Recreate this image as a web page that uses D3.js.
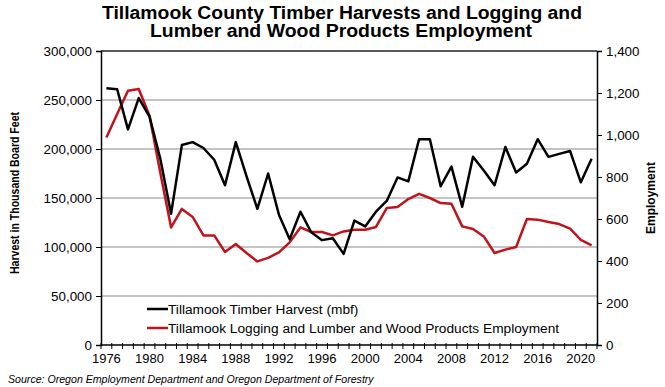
<!DOCTYPE html>
<html>
<head>
<meta charset="utf-8">
<script src="https://cdn.jsdelivr.net/npm/d3@7"></script>
<style>
  body { margin: 0; background: #fff; }
  svg { font-family: Arial, 'Liberation Sans', sans-serif; }
</style>
</head>
<body>
<svg id="chart" width="665" height="387"></svg>
<script>
// data
const years = d3.range(1976, 2022)
const harvest = [262, 261, 220, 252, 233, 190, 134, 204, 207, 201, 189, 163, 207, 172, 139, 175,
  133, 108, 136, 115, 107, 109, 93, 127, 121, 136, 147, 171, 167, 210, 210, 162, 182, 141, 192,
  178, 163, 202, 176, 185, 210, 192, 195, 198, 166, 190].map(v => v * 1000)
const employment = [988, 1100, 1211, 1219, 1092, 820, 560, 648, 610, 522, 522, 443, 481, 438, 398, 415,
  441, 489, 560, 538, 538, 522, 541, 549, 549, 562, 652, 657, 695, 720, 700, 676, 673, 565, 552,
  517, 438, 454, 467, 600, 597, 586, 576, 554, 501, 474]
const leftTicks = [0, 50000, 100000, 150000, 200000, 250000, 300000]
const rightTicks = [0, 200, 400, 600, 800, 1000, 1200, 1400]
const labelYears = [1976, 1980, 1984, 1988, 1992, 1996, 2000, 2004, 2008, 2012, 2016, 2020]

const svg = d3.select('#chart')
const margin = { left: 101, right: 68, top: 51, bottom: 42 }
const width = 665, height = 387
const innerW = width - margin.left - margin.right
const innerH = height - margin.top - margin.bottom

const x = d3.scaleBand().domain(years).range([margin.left, margin.left + innerW])
const cx = d => x(d) + x.bandwidth() / 2
const yL = d3.scaleLinear().domain([0, 300000]).range([margin.top + innerH, margin.top])
const yR = d3.scaleLinear().domain([0, 1400]).range([margin.top + innerH, margin.top])

// gridlines
svg.append('g')
  .selectAll('line')
  .data(leftTicks.slice(1, -1))
  .join('line')
  .attr('x1', margin.left).attr('x2', margin.left + innerW)
  .attr('y1', d => yL(d)).attr('y2', d => yL(d))
  .attr('stroke', '#c4c4c4').attr('stroke-width', 2)

// top border
svg.append('line')
  .attr('x1', margin.left).attr('x2', margin.left + innerW)
  .attr('y1', margin.top).attr('y2', margin.top)
  .attr('stroke', '#222').attr('stroke-width', 1.5)

const fmt = d3.format(',')

const leftAxis = svg.append('g')
  .attr('transform', `translate(${margin.left},0)`)
  .call(d3.axisLeft(yL).tickValues(leftTicks).tickFormat(fmt).tickSize(5).tickPadding(4))
const rightAxis = svg.append('g')
  .attr('transform', `translate(${margin.left + innerW},0)`)
  .call(d3.axisRight(yR).tickValues(rightTicks).tickFormat(fmt).tickSize(5).tickPadding(4))

// x axis: ticks at band boundaries, labels every 4 years
const xAxisG = svg.append('g').attr('transform', `translate(0,${margin.top + innerH})`)
xAxisG.append('line')
  .attr('x1', margin.left).attr('x2', margin.left + innerW)
  .attr('stroke', '#000').attr('stroke-width', 1.5)
xAxisG.selectAll('.tk')
  .data(years.concat([2022]))
  .join('line')
  .attr('class', 'tk')
  .attr('x1', d => d === 2022 ? margin.left + innerW : x(d))
  .attr('x2', d => d === 2022 ? margin.left + innerW : x(d))
  .attr('y1', -2).attr('y2', 4)
  .attr('stroke', '#000')
xAxisG.selectAll('text')
  .data(labelYears)
  .join('text')
  .attr('x', d => cx(d))
  .attr('y', 18)
  .attr('text-anchor', 'middle')
  .attr('font-size', 13)
  .text(d => d)

for (const g of [leftAxis, rightAxis]) {
  g.select('.domain').attr('stroke', '#000').attr('stroke-width', 1.5)
  g.selectAll('.tick line').attr('stroke', '#000')
  g.selectAll('.tick text').attr('font-size', 13.4).attr('fill', '#000')
}

// lines
const harvestLine = d3.line().x((d, i) => cx(years[i])).y(d => yL(d))
const empLine = d3.line().x((d, i) => cx(years[i])).y(d => yR(d))

svg.append('path')
  .datum(employment)
  .attr('d', empLine)
  .attr('fill', 'none')
  .attr('stroke', '#c0141c')
  .attr('stroke-width', 2.5)
  .attr('stroke-linejoin', 'round')

svg.append('path')
  .datum(harvest)
  .attr('d', harvestLine)
  .attr('fill', 'none')
  .attr('stroke', '#000')
  .attr('stroke-width', 2.5)
  .attr('stroke-linejoin', 'round')

// legend
const legendItems = [
  { label: 'Tillamook Timber Harvest (mbf)', color: '#000' },
  { label: 'Tillamook Logging and Lumber and Wood Products Employment', color: '#c0141c' }
]
const legend = svg.append('g')
legend.selectAll('line')
  .data(legendItems)
  .join('line')
  .attr('x1', 147).attr('x2', 168)
  .attr('y1', (d, i) => 309 + i * 19).attr('y2', (d, i) => 309 + i * 19)
  .attr('stroke', d => d.color).attr('stroke-width', 2.5)
legend.selectAll('text')
  .data(legendItems)
  .join('text')
  .attr('x', 168)
  .attr('y', (d, i) => 314 + i * 19)
  .attr('font-size', 13.7)
  .text(d => d.label)

// titles
svg.append('text')
  .attr('x', 342).attr('y', 19)
  .attr('text-anchor', 'middle')
  .attr('font-size', 18).attr('font-weight', 'bold')
  .attr('textLength', 480).attr('lengthAdjust', 'spacingAndGlyphs')
  .text('Tillamook County Timber Harvests and Logging and')
svg.append('text')
  .attr('x', 341).attr('y', 37)
  .attr('text-anchor', 'middle')
  .attr('font-size', 18).attr('font-weight', 'bold')
  .attr('textLength', 382).attr('lengthAdjust', 'spacingAndGlyphs')
  .text('Lumber and Wood Products Employment')

svg.append('text')
  .attr('transform', 'translate(19,193) rotate(-90)')
  .attr('text-anchor', 'middle')
  .attr('font-size', 12.5).attr('font-weight', 'bold')
  .attr('textLength', 162).attr('lengthAdjust', 'spacingAndGlyphs')
  .text('Harvest in Thousand Board Feet')
svg.append('text')
  .attr('transform', `translate(655,${margin.top + innerH / 2}) rotate(-90)`)
  .attr('text-anchor', 'middle')
  .attr('font-size', 12.5).attr('font-weight', 'bold')
  .attr('textLength', 72).attr('lengthAdjust', 'spacingAndGlyphs')
  .text('Employment')

svg.append('text')
  .attr('x', 8).attr('y', 383)
  .attr('font-size', 10.6).attr('font-style', 'italic')
  .text('Source: Oregon Employment Department and Oregon Department of Forestry')
</script>
</body>
</html>
